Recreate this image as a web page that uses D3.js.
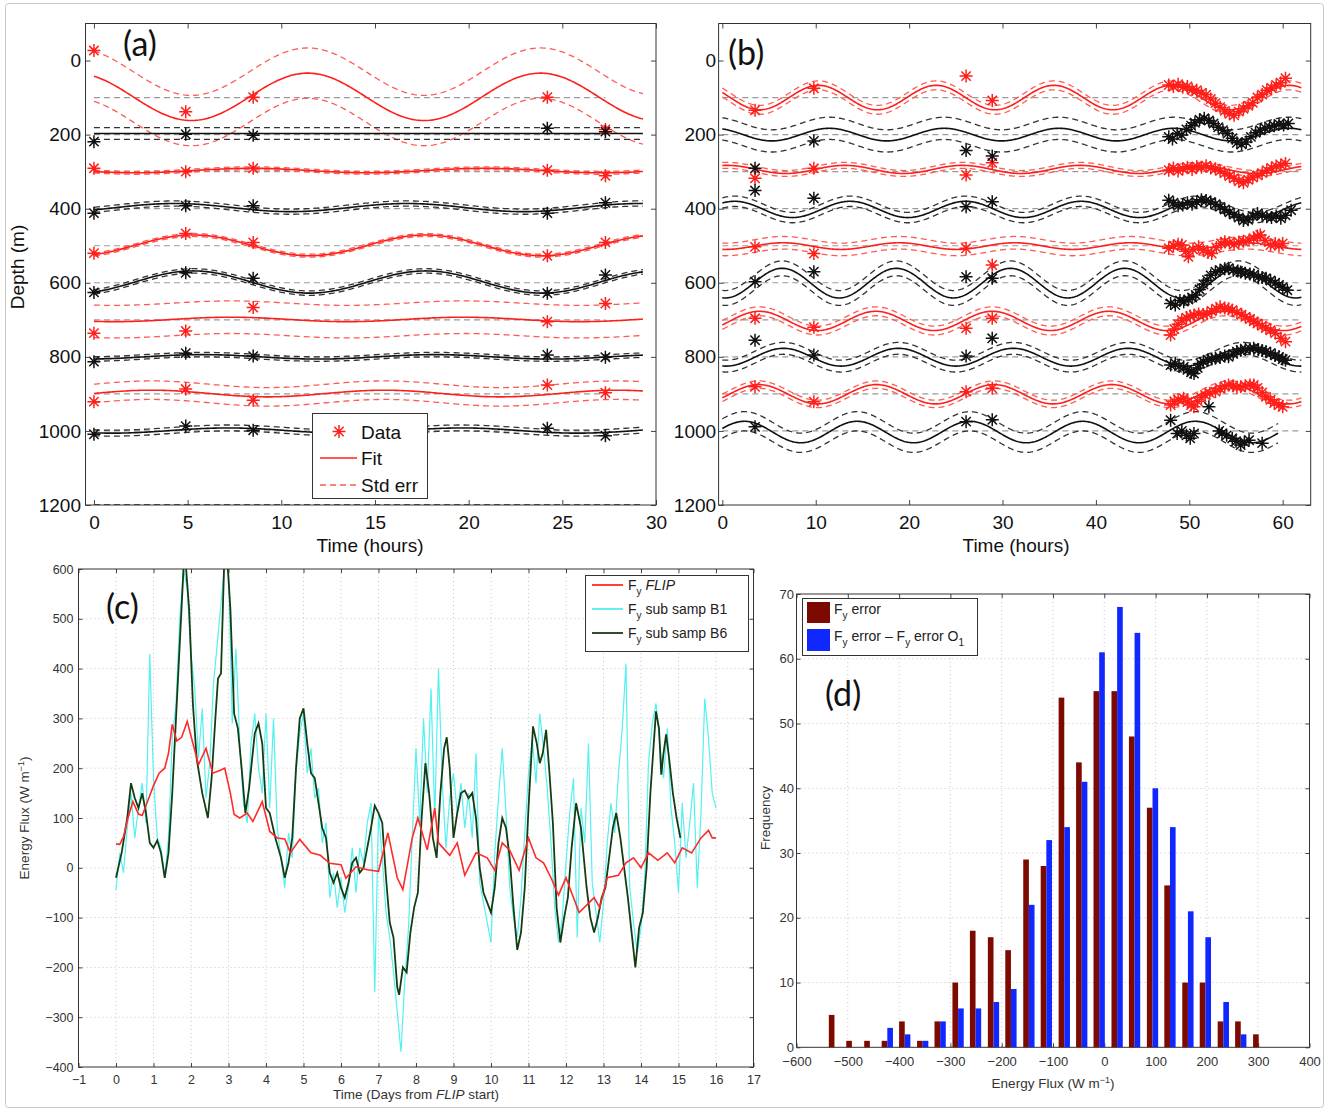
<!DOCTYPE html>
<html>
<head>
<meta charset="utf-8">
<script src="https://cdn.jsdelivr.net/npm/d3@7"></script>
<style>
  body { margin: 0; background: #fff; }
  svg text { font-family: "Liberation Sans", Arial, sans-serif; }
  .plabel { font-family: Lato, "Open Sans", sans-serif; }
</style>
</head>
<body>
<svg id="fig" width="1333" height="1111"></svg>
<script>
// ---------- panel (a): 30 h record ----------
var levels = [100, 200, 300, 400, 500, 600, 700, 800, 900, 1000];
var aMean = [98, 197, 297, 397, 499, 598, 699, 800, 899, 999];
var aAmp = [64, 0, 6, 11, 28, 30, 6, 6, 9, 7];
var aDeep = [5.2, 0, 2.2, 10.5, 11.5, 11.5, 13.5, 12, 21.7, 13.4];   // hour of deepest excursion
var aErr = [68, 16, 4, 7, 4, 6, 44, 6, 25, 8];
var aPeriod = 12.42;
var aTimes = [0, 4.9, 8.5, 24.2, 27.3];
var aObs = [
  [-27, 138, 99, 99, 186],
  [219, 199, 202, 183, 192],
  [291, 300, 291, 296, 311],
  [412, 392, 392, 412, 384],
  [520, 467, 491, 527, 491],
  [626, 573, 588, 628, 579],
  [736, 730, 667, 705, 656],
  [813, 790, 798, 795, 801],
  [921, 887, 917, 876, 897],
  [1009, 987, 998, 993, 1013]
];

// ---------- panel (b): 62 h record ----------
var bMean = [100, 200, 294, 402, 501, 601, 703, 801, 901, 1003];
var bAmp = [33, 17, 11, 22, 9, 40, 26, 24, 26, 29];
var bDeep = [4.0, 5.3, 6.8, 7.5, 0.3, 0.3, 10.2, 0.4, 10.2, 8.4];
var bPeriod = [12.6, 12.3, 12.6, 12.37, 12.4, 12.22, 12.47, 12.3, 12.6, 12.07];
var bErr = [12, 30, 8, 14, 17, 20, 12, 16, 10, 26];
var bEnd = [62, 62, 62, 62, 62, 62, 62, 62, 62, 59.5];
var bRedSparse = [
  [3.5, 134], [9.8, 75], [26.1, 42], [28.9, 108],
  [3.5, 318], [9.8, 291], [26.1, 309], [28.9, 276],
  [3.5, 503], [9.8, 521], [26.1, 507], [28.9, 552],
  [3.5, 696], [9.8, 720], [26.1, 723], [28.9, 696],
  [3.5, 881], [9.8, 921], [26.1, 894], [28.9, 885]
];
var bBlackSparse = [
  [9.8, 217], [26.1, 243], [28.9, 258],
  [3.5, 291], [3.5, 351], [9.8, 372], [26.1, 395], [28.9, 381],
  [3.5, 597], [9.8, 570], [26.1, 584], [28.9, 588],
  [3.5, 755], [9.8, 795], [26.1, 798], [28.9, 750],
  [3.5, 989], [26.1, 975], [28.9, 970]
];
var bRedDense = [
  [47.8,66],[48.3,70],[48.8,64],[49.3,72],[49.8,70],[50.3,78],[50.8,80],[51.3,88],[51.8,92],[52.3,104],[52.8,115],[53.3,126],[53.8,136],[54.3,144],[54.8,148],[55.3,138],[55.8,130],[56.3,122],[56.8,114],[57.3,100],[57.8,92],[58.3,80],[58.8,74],[59.3,66],[59.8,60],[60.3,48],
  [47.8,296],[48.3,290],[48.8,298],[49.3,292],[49.8,288],[50.3,294],[50.8,286],[51.3,288],[51.8,284],[52.3,290],[52.8,292],[53.3,298],[53.8,304],[54.3,312],[54.8,318],[55.3,326],[55.8,330],[56.3,322],[56.8,316],[57.3,310],[57.8,304],[58.3,296],[58.8,290],[59.3,285],[59.8,282],[60.3,278],
  [47.8,507],[48.3,500],[48.8,496],[49.2,498],[49.6,515],[49.9,530],[50.4,510],[51.0,503],[51.5,512],[52.0,518],[52.4,521],[52.9,505],[53.4,494],[53.8,489],[54.3,492],[54.8,496],[55.3,490],[55.8,488],[56.4,485],[56.9,480],[57.3,474],[57.6,471],[58.1,486],[58.7,498],[59.2,494],[59.6,500],[60.0,494],
  [48.0,741],[48.4,725],[48.8,712],[49.2,701],[49.7,694],[50.1,690],[50.5,687],[51.0,684],[51.5,686],[51.9,683],[52.4,676],[52.9,670],[53.3,665],[53.8,668],[54.2,670],[54.6,674],[55.1,680],[55.6,686],[56.0,692],[56.5,698],[56.9,704],[57.3,710],[57.8,716],[58.2,722],[58.7,728],[59.2,736],[59.8,750],[60.3,759],
  [48.0,930],[48.4,920],[48.8,915],[49.4,912],[49.8,922],[50.2,930],[50.5,935],[50.9,920],[51.3,910],[51.7,903],[52.2,898],[52.8,894],[53.3,886],[53.8,880],[54.2,876],[54.7,878],[55.1,882],[55.5,881],[56.0,878],[56.5,876],[56.9,876],[57.3,884],[57.8,896],[58.2,908],[58.7,916],[59.1,925],[59.6,930],[60.0,935]
];
var bBlackDense = [
  [47.8,206],[48.2,212],[48.7,198],[49.2,201],[49.7,186],[50.2,176],[50.6,168],[51.1,160],[51.6,156],[52.1,162],[52.6,170],[53.1,180],[53.6,188],[54.1,197],[54.6,210],[55.1,222],[55.6,226],[56.1,220],[56.6,206],[57.1,195],[57.6,188],[58.1,182],[58.6,179],[59.1,176],[59.6,172],[60.1,174],[60.6,170],
  [47.8,377],[48.3,384],[48.8,392],[49.3,390],[49.8,384],[50.3,388],[50.8,382],[51.3,376],[51.8,378],[52.3,382],[52.8,388],[53.3,395],[53.8,402],[54.3,410],[54.8,416],[55.3,424],[55.8,432],[56.3,430],[56.8,420],[57.3,413],[57.8,418],[58.3,422],[58.8,424],[59.3,420],[59.8,426],[60.3,418],[60.9,404],
  [48.0,656],[48.5,660],[49.0,648],[49.4,651],[49.9,645],[50.3,640],[50.7,633],[51.1,618],[51.5,604],[51.9,593],[52.3,580],[52.8,570],[53.3,566],[53.8,562],[54.2,561],[54.7,566],[55.2,568],[55.5,571],[56.0,574],[56.5,576],[56.9,579],[57.4,584],[57.8,586],[58.2,588],[58.7,594],[59.2,600],[59.6,606],[60.0,612],[60.5,620],
  [48.0,822],[48.5,818],[48.9,826],[49.4,827],[49.8,835],[50.2,842],[50.5,845],[50.9,830],[51.2,818],[51.5,813],[52.0,808],[52.4,806],[52.8,804],[53.3,802],[53.8,798],[54.2,800],[54.7,792],[55.1,786],[55.5,782],[56.0,780],[56.5,778],[56.9,777],[57.4,780],[57.8,783],[58.2,786],[58.7,790],[59.2,796],[59.6,800],[60.0,806],[60.3,809],
  [48.0,971],[48.7,1007],[49.2,1000],[49.7,1012],[50.1,1020],[50.5,1007],[52.1,935],[53.2,1000],[53.5,1007],[54.0,1012],[54.6,1020],[55.0,1028],[55.5,1038],[55.9,1030],[56.4,1025],[57.8,1033]
];

// ---------- panel (c): energy flux time series ----------
var cFlip = [[0,48],[0.1,47],[0.2,62],[0.3,95],[0.45,133],[0.6,108],[0.7,105],[0.85,135],[1.0,165],[1.15,190],[1.3,200],[1.4,230],[1.5,288],[1.62,255],[1.75,262],[1.9,294],[2.05,250],[2.2,207],[2.4,240],[2.58,190],[2.75,195],[2.9,200],[3.05,150],[3.15,107],[3.3,100],[3.5,110],[3.65,93],[3.9,133],[4.1,73],[4.3,60],[4.5,58],[4.65,30],[4.9,57],[5.2,30],[5.45,25],[5.7,9],[6.0,6],[6.13,-21],[6.4,2],[6.7,-4],[7.0,-7],[7.25,70],[7.5,-20],[7.65,-44],[7.9,60],[8.05,100],[8.3,36],[8.5,120],[8.6,50],[8.9,25],[9.1,50],[9.3,-15],[9.6,30],[9.9,20],[10.1,-5],[10.3,50],[10.5,35],[10.75,-5],[11.0,60],[11.2,20],[11.4,10],[11.6,-20],[11.8,-55],[12.0,-20],[12.15,-50],[12.35,-90],[12.55,-75],[12.75,-60],[12.9,-80],[13.1,-20],[13.4,-15],[13.6,10],[13.8,20],[14.0,0],[14.2,30],[14.45,15],[14.7,30],[14.9,10],[15.1,40],[15.35,30],[15.6,60],[15.8,75],[15.9,60],[16.0,60]];
var cB1Start = 0, cB1Step = 0.1;
var cB1 = [
  -45, 30, -10, 80, 150, 60, 120, 170, 90, 430,
  180, 60, 40, -20, 60, 260, 330, 500, 600, 560,
  430, 360, 220, 320, 140, 210, 370, 450, 530, 610,
  600, 290, 440, 250, 130, 90, 250, 310, 200, 150,
  310, 120, 300, 80, 20, -40, 70, 20, 190, 270,
  310, 190, 240, 140, 160, 50, 90, -60, -10, -80,
  -20, -90, -40, 40, -50, 40, 10, 90, 130, -250,
  110, 20, -90, -140, -210, -290, -370, -230, -120, 60,
  240, 90, 300, 150, 360, 100, 400, 170, 40, 140,
  190, 110, 170, 80, 150, 60, 230, -30, -70, -110,
  -150, 30, 140, 240, 110, -40, -100, -140, -60, 70,
  190, 260, 170, 310, 240, 160, 50, -80, -150, -100,
  10, 110, 180, -140, 120, 50, 250, -30, -90, -150,
  -70, 50, 130, 70, 190, 280, 410, -40, -110, -170,
  -120, -20, 210, 290, 330, 250, 180, 280, 120, 50,
  -50, 130, 20, 90, 170, -40, 110, 340, 260, 150,
  120
];
var cB6 = [[0,-20],[0.15,30],[0.3,100],[0.4,170],[0.5,140],[0.6,120],[0.7,150],[0.8,110],[0.9,50],[1.0,40],[1.1,55],[1.2,30],[1.3,-20],[1.4,30],[1.5,150],[1.6,300],[1.7,450],[1.8,600],[1.85,620],[1.95,520],[2.05,330],[2.15,220],[2.3,150],[2.45,100],[2.55,180],[2.65,300],[2.72,380],[2.8,390],[2.88,600],[2.95,640],[3.05,520],[3.15,310],[3.25,280],[3.35,200],[3.45,110],[3.55,160],[3.7,270],[3.8,290],[3.9,250],[4.0,120],[4.1,110],[4.25,60],[4.4,20],[4.5,-20],[4.6,10],[4.7,60],[4.8,200],[4.9,300],[5.0,320],[5.1,250],[5.2,190],[5.3,180],[5.4,130],[5.5,80],[5.6,60],[5.7,-10],[5.8,-30],[5.9,-10],[6.0,-40],[6.1,-60],[6.2,-30],[6.3,10],[6.4,20],[6.5,-10],[6.6,0],[6.7,40],[6.8,80],[6.9,125],[7.0,110],[7.1,90],[7.2,-20],[7.3,-110],[7.4,-140],[7.5,-240],[7.55,-255],[7.65,-200],[7.75,-210],[7.85,-130],[7.95,-80],[8.05,-50],[8.15,100],[8.25,210],[8.35,150],[8.45,60],[8.55,20],[8.65,150],[8.75,240],[8.82,262],[8.9,200],[9.0,60],[9.1,110],[9.2,150],[9.3,155],[9.4,140],[9.5,150],[9.6,100],[9.7,0],[9.8,-50],[9.9,-70],[10.0,-90],[10.1,-40],[10.2,50],[10.3,100],[10.4,80],[10.5,20],[10.6,-80],[10.7,-165],[10.8,-130],[10.9,-40],[11.0,120],[11.12,284],[11.22,250],[11.3,210],[11.38,230],[11.47,277],[11.55,200],[11.65,90],[11.75,-80],[11.85,-150],[11.95,-100],[12.05,-60],[12.15,40],[12.27,130],[12.4,80],[12.55,-40],[12.65,-100],[12.75,-130],[12.85,-100],[12.95,-60],[13.05,-40],[13.15,20],[13.25,80],[13.34,110],[13.45,60],[13.55,0],[13.65,-60],[13.75,-130],[13.85,-200],[13.95,-120],[14.05,-90],[14.15,0],[14.25,150],[14.35,260],[14.4,314],[14.48,280],[14.54,187],[14.6,230],[14.67,268],[14.75,220],[14.85,150],[14.95,100],[15.05,60]];

// ---------- panel (d): histogram ----------
var dBins = [-526,-492,-457,-423,-389,-354,-320,-285,-251,-216,-182,-147,-113,-78,-44,-10,25,59,94,128,163,197,232,266,301];
var dErr = [5,1,1,1,4,1,4,10,18,17,15,29,28,54,44,55,55,48,37,25,10,10,4,4,2];
var dErrO1 = [0,0,0,3,2,1,4,6,6,7,9,22,32,34,41,61,68,64,40,34,21,17,7,2,0];
var dBarW = 11;

var RED = "#ff1f1a", RED_D = "#ff5a55", BLK = "#111", BLK_D = "#333", GRAY_D = "#9a9a9a";

var svg = d3.select("#fig");
svg.append("rect").attr("x", 5.5).attr("y", 3.5).attr("width", 1318).attr("height", 1104)
  .attr("rx", 3).attr("fill", "#fff").attr("stroke", "#c8c8c8");

function axesBox(x, y, xt, yt, o) {
  var g = svg.append("g");
  var L = x.range()[0], R = x.range()[1];
  var T = d3.min(y.range()), B = d3.max(y.range());
  var fmt = d3.format("d");
  if (o.grid) {
    g.selectAll(null).data(xt.slice(1, -1)).join("line")
      .attr("x1", d => x(d)).attr("x2", d => x(d)).attr("y1", T).attr("y2", B)
      .attr("stroke", "#c8c8c8").attr("stroke-dasharray", "1,3");
    g.selectAll(null).data(yt.slice(1, -1)).join("line")
      .attr("y1", d => y(d)).attr("y2", d => y(d)).attr("x1", L).attr("x2", R)
      .attr("stroke", "#c8c8c8").attr("stroke-dasharray", "1,3");
  }
  g.append("g").attr("transform", "translate(0," + B + ")")
    .call(d3.axisBottom(x).tickValues(xt).tickSizeInner(-o.tick).tickSizeOuter(0).tickPadding(o.padX).tickFormat(fmt));
  g.append("g").attr("transform", "translate(0," + T + ")")
    .call(d3.axisTop(x).tickValues(xt).tickSizeInner(-o.tick).tickSizeOuter(0).tickFormat(""));
  g.append("g").attr("transform", "translate(" + L + ",0)")
    .call(d3.axisLeft(y).tickValues(yt).tickSizeInner(-o.tick).tickSizeOuter(0).tickPadding(o.padY).tickFormat(fmt));
  g.append("g").attr("transform", "translate(" + R + ",0)")
    .call(d3.axisRight(y).tickValues(yt).tickSizeInner(-o.tick).tickSizeOuter(0).tickFormat(""));
  g.selectAll(".domain").remove();
  g.selectAll(".tick line").attr("stroke", "#444");
  g.selectAll(".tick text").attr("font-size", o.fs).attr("fill", o.tc)
    .attr("font-family", "'Liberation Sans', Arial, sans-serif");
  g.append("rect").attr("x", L).attr("y", T).attr("width", R - L).attr("height", B - T)
    .attr("fill", "none").attr("stroke", "#333");
  return g;
}

function clip(id, x, y) {
  var L = x.range()[0], R = x.range()[1], T = d3.min(y.range()), B = d3.max(y.range());
  svg.append("clipPath").attr("id", id).append("rect")
    .attr("x", L).attr("y", T).attr("width", R - L).attr("height", B - T);
  return svg.append("g").attr("clip-path", "url(#" + id + ")");
}

function star(r) {
  var d = r * 0.72;
  return "M" + (-r) + ",0H" + r + "M0," + (-r) + "V" + r +
    "M" + (-d) + "," + (-d) + "L" + d + "," + d + "M" + (-d) + "," + d + "L" + d + "," + (-d);
}

function harm(mean, amp, deep, per) {
  return function (t) { return mean + amp * Math.cos(2 * Math.PI * (t - deep) / per); };
}

function mooring(g, x, y, means, amps, deeps, pers, errs, t0, ends, refEnd) {
  levels.forEach(function (lev, i) {
    var col = i % 2 === 0 ? RED : BLK, colD = i % 2 === 0 ? RED_D : BLK_D;
    var f = harm(means[i], amps[i], deeps[i], pers[i]);
    var ts = d3.range(t0, ends[i] + 0.001, 0.1);
    var ln = d3.line().x(d => x(d[0])).y(d => y(d[1]));
    g.append("path").attr("d", ln([[t0, lev], [refEnd, lev]]))
      .attr("fill", "none").attr("stroke", GRAY_D).attr("stroke-width", 1.2).attr("stroke-dasharray", "6,4");
    [-1, 1].forEach(function (s) {
      g.append("path").attr("d", ln(ts.map(t => [t, f(t) + s * errs[i]])))
        .attr("fill", "none").attr("stroke", colD).attr("stroke-width", 1.3).attr("stroke-dasharray", "6,4");
    });
    g.append("path").attr("d", ln(ts.map(t => [t, f(t)])))
      .attr("fill", "none").attr("stroke", col).attr("stroke-width", 1.6);
  });
}

function markers(g, x, y, pts, col) {
  g.selectAll(null).data(pts).join("path")
    .attr("transform", d => "translate(" + x(d[0]) + "," + y(d[1]) + ")")
    .attr("d", star(6.5)).attr("fill", "none").attr("stroke", col).attr("stroke-width", 1.5);
}

// ===== panel (a) =====
var xA = d3.scaleLinear().domain([-0.45, 30]).range([85.5, 656]);
var yA = d3.scaleLinear().domain([-100, 1200]).range([23.5, 505]);
var gA = clip("clipA", xA, yA);
mooring(gA, xA, yA, aMean, aAmp, aDeep, levels.map(() => aPeriod), aErr, 0, levels.map(() => 29.3), 27.3);
gA.append("path").attr("d", d3.line().x(d => xA(d[0])).y(d => yA(d[1]))([[0, 1200], [29.3, 1200]]))
  .attr("stroke", BLK).attr("stroke-width", 1.5).attr("stroke-dasharray", "6,4");
aObs.forEach(function (row, i) {
  markers(gA, xA, yA, row.map((v, j) => [aTimes[j], v]), i % 2 === 0 ? RED : BLK);
});
axesBox(xA, yA, d3.range(0, 31, 5), d3.range(0, 1201, 200), { fs: 19, tc: "#111", tick: 5, padX: 11, padY: 4.5 });

// legend (a)
var lg = svg.append("g");
lg.append("rect").attr("x", 312.5).attr("y", 413.5).attr("width", 115).attr("height", 85)
  .attr("fill", "#fff").attr("stroke", "#333");
lg.append("path").attr("transform", "translate(339,431.5)").attr("d", star(6.5))
  .attr("fill", "none").attr("stroke", RED).attr("stroke-width", 1.5);
lg.append("line").attr("x1", 320).attr("x2", 357).attr("y1", 458).attr("y2", 458)
  .attr("stroke", RED).attr("stroke-width", 1.6);
lg.append("line").attr("x1", 320).attr("x2", 357).attr("y1", 485).attr("y2", 485)
  .attr("stroke", RED_D).attr("stroke-width", 1.3).attr("stroke-dasharray", "6,4");
[["Data", 438.5], ["Fit", 465], ["Std err", 492]].forEach(function (d) {
  lg.append("text").attr("x", 361).attr("y", d[1]).attr("font-size", 19).attr("fill", "#111").text(d[0]);
});

svg.append("text").attr("transform", "translate(24,267) rotate(-90)").attr("text-anchor", "middle")
  .attr("font-size", 19).attr("fill", "#111").text("Depth (m)");
svg.append("text").attr("x", 370).attr("y", 552).attr("text-anchor", "middle")
  .attr("font-size", 19).attr("fill", "#111").text("Time (hours)");
svg.append("text").attr("class", "plabel").attr("x", 123).attr("y", 56).attr("font-size", 34).attr("fill", "#111").text("(a)");

// ===== panel (b) =====
var xB = d3.scaleLinear().domain([-0.4, 63]).range([718.6, 1310.7]);
var yB = d3.scaleLinear().domain([-100, 1200]).range([23.5, 505]);
var gB = clip("clipB", xB, yB);
mooring(gB, xB, yB, bMean, bAmp, bDeep, bPeriod, bErr, 0, bEnd, 62);
markers(gB, xB, yB, bRedSparse, RED);
markers(gB, xB, yB, bBlackSparse, BLK);
markers(gB, xB, yB, bBlackDense, BLK);
markers(gB, xB, yB, bRedDense, RED);
axesBox(xB, yB, d3.range(0, 61, 10), d3.range(0, 1201, 200), { fs: 19, tc: "#111", tick: 5, padX: 11, padY: 2.5 });
svg.append("text").attr("x", 1016).attr("y", 552).attr("text-anchor", "middle")
  .attr("font-size", 19).attr("fill", "#111").text("Time (hours)");
svg.append("text").attr("class", "plabel").attr("x", 728).attr("y", 65).attr("font-size", 34).attr("fill", "#111").text("(b)");

// ===== panel (c) =====
var xC = d3.scaleLinear().domain([-1, 17]).range([78.5, 753.5]);
var yC = d3.scaleLinear().domain([-400, 600]).range([1067, 569]);
axesBox(xC, yC, d3.range(-1, 18, 1), d3.range(-400, 601, 100), { fs: 12.5, tc: "#333", tick: 4, padX: 8, padY: 5, grid: true });
var gC = clip("clipC", xC, yC);
var lineC = d3.line().x(d => xC(d[0])).y(d => yC(d[1]));
gC.append("path").attr("d", lineC(cB1.map((v, i) => [cB1Start + i * cB1Step, v])))
  .attr("fill", "none").attr("stroke", "#55f0f0").attr("stroke-width", 1.2);
gC.append("path").attr("d", lineC(cB6)).attr("fill", "none").attr("stroke", "#143d14").attr("stroke-width", 1.8);
gC.append("path").attr("d", lineC(cFlip)).attr("fill", "none").attr("stroke", "#ff2a2a").attr("stroke-width", 1.6);

var lc = svg.append("g").attr("font-size", 14).attr("fill", "#222");
lc.append("rect").attr("x", 585.5).attr("y", 575.5).attr("width", 163).attr("height", 76)
  .attr("fill", "#fff").attr("stroke", "#333");
[["#ff2a2a", 585], ["#55f0f0", 609], ["#143d14", 633]].forEach(function (d) {
  lc.append("line").attr("x1", 592).attr("x2", 623).attr("y1", d[1]).attr("y2", d[1])
    .attr("stroke", d[0]).attr("stroke-width", 1.8);
});
function fy(g, xp, yp, rest, italic) {
  var t = g.append("text").attr("x", xp).attr("y", yp);
  t.append("tspan").text("F");
  t.append("tspan").attr("dy", 5).attr("font-size", 10).text("y");
  var r = t.append("tspan").attr("dy", -5).text(rest);
  if (italic) r.attr("font-style", "italic");
  return t;
}
fy(lc, 628, 590, "  FLIP", true);
fy(lc, 628, 614, " sub samp B1");
fy(lc, 628, 638, " sub samp B6");

svg.append("text").attr("transform", "translate(29,818) rotate(-90)").attr("text-anchor", "middle")
  .attr("font-size", 13.5).attr("fill", "#333")
  .call(t => { t.append("tspan").text("Energy Flux (W m"); t.append("tspan").attr("dy", -5).attr("font-size", 9).text("−1"); t.append("tspan").attr("dy", 5).text(")"); });
svg.append("text").attr("x", 416).attr("y", 1099).attr("text-anchor", "middle")
  .attr("font-size", 13.5).attr("fill", "#333")
  .call(t => { t.append("tspan").text("Time (Days from  "); t.append("tspan").attr("font-style", "italic").text("FLIP"); t.append("tspan").text(" start)"); });
svg.append("text").attr("class", "plabel").attr("x", 106).attr("y", 619).attr("font-size", 34).attr("fill", "#111").text("(c)");

// ===== panel (d) =====
var xD = d3.scaleLinear().domain([-600, 400]).range([796.5, 1309.5]);
var yD = d3.scaleLinear().domain([0, 70]).range([1047.3, 594]);
axesBox(xD, yD, d3.range(-600, 401, 100), d3.range(0, 71, 10), { fs: 13, tc: "#333", tick: 4, padX: 9, padY: 2.5, grid: true });
var gD = svg.append("g");
gD.selectAll(".r").data(dBins).join("rect")
  .attr("x", d => xD(d - dBarW)).attr("width", d => xD(d) - xD(d - dBarW))
  .attr("y", (d, i) => yD(dErr[i])).attr("height", (d, i) => yD(0) - yD(dErr[i]))
  .attr("fill", "#7d0a00");
gD.selectAll(".b").data(dBins).join("rect")
  .attr("x", d => xD(d)).attr("width", d => xD(d + dBarW) - xD(d))
  .attr("y", (d, i) => yD(dErrO1[i])).attr("height", (d, i) => yD(0) - yD(dErrO1[i]))
  .attr("fill", "#1028ff");

var ld = svg.append("g").attr("font-size", 14).attr("fill", "#222");
ld.append("rect").attr("x", 802.5).attr("y", 598.5).attr("width", 175).attr("height", 57)
  .attr("fill", "#fff").attr("stroke", "#333");
ld.append("rect").attr("x", 807).attr("y", 602).attr("width", 23).attr("height", 21).attr("fill", "#7d0a00");
ld.append("rect").attr("x", 807).attr("y", 629).attr("width", 23).attr("height", 22).attr("fill", "#1028ff");
fy(ld, 834, 614, " error");
var t2 = fy(ld, 834, 641, " error – F");
t2.append("tspan").attr("dy", 5).attr("font-size", 10).text("y");
t2.append("tspan").attr("dy", -5).text(" error O");
t2.append("tspan").attr("dy", 5).attr("font-size", 10).text("1");

svg.append("text").attr("transform", "translate(770,818) rotate(-90)").attr("text-anchor", "middle")
  .attr("font-size", 13.5).attr("fill", "#333").text("Frequency");
svg.append("text").attr("x", 1053).attr("y", 1088).attr("text-anchor", "middle")
  .attr("font-size", 13.5).attr("fill", "#333")
  .call(t => { t.append("tspan").text("Energy Flux (W m"); t.append("tspan").attr("dy", -5).attr("font-size", 9).text("−1"); t.append("tspan").attr("dy", 5).text(")"); });
svg.append("text").attr("class", "plabel").attr("x", 825).attr("y", 706).attr("font-size", 34).attr("fill", "#111").text("(d)");
</script>
</body>
</html>
